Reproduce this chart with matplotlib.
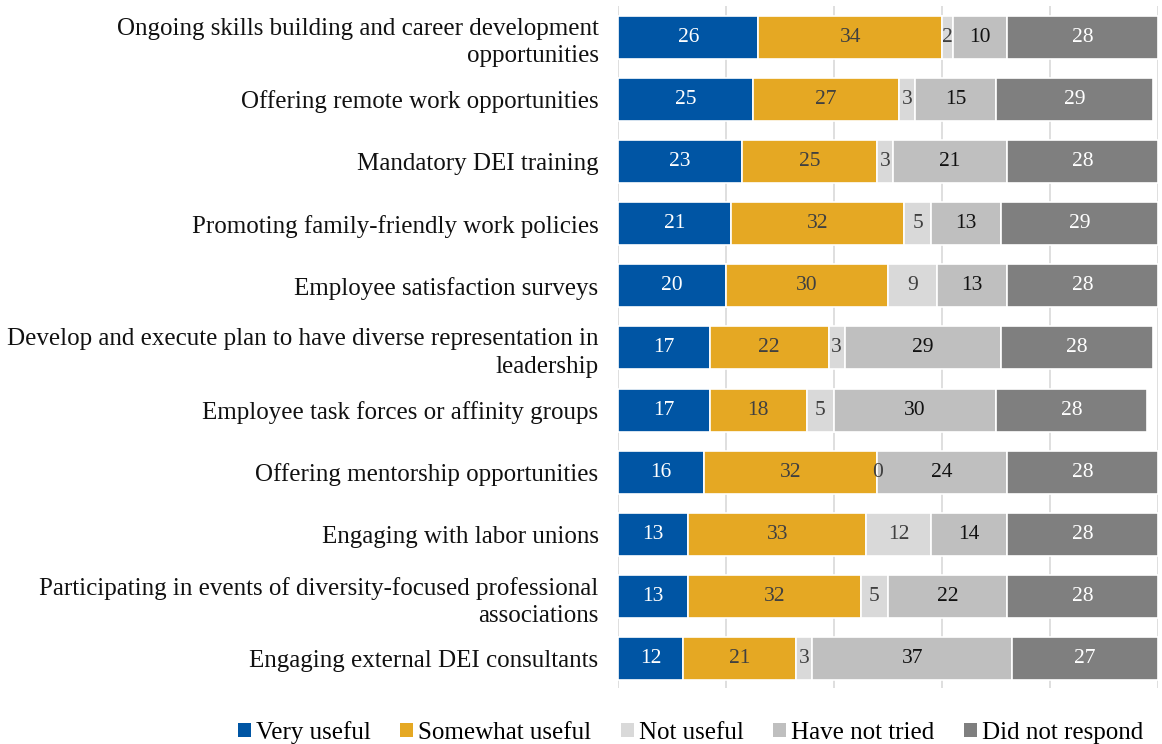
import numpy as np
import matplotlib.pyplot as plt
from matplotlib.patches import Patch

plt.rcParams['font.family'] = ['Liberation Serif', 'DejaVu Serif']

categories = [
    "Ongoing skills building and career development\nopportunities",
    "Offering remote work opportunities",
    "Mandatory DEI training",
    "Promoting family-friendly work policies",
    "Employee satisfaction surveys",
    "Develop and execute plan to have diverse representation in\nleadership",
    "Employee task forces or affinity groups",
    "Offering mentorship opportunities",
    "Engaging with labor unions",
    "Participating in events of diversity-focused professional\nassociations",
    "Engaging external DEI consultants",
]

very_useful = [26, 25, 23, 21, 20, 17, 17, 16, 13, 13, 12]
somewhat_useful = [34, 27, 25, 32, 30, 22, 18, 32, 33, 32, 21]
not_useful = [2, 3, 3, 5, 9, 3, 5, 0, 12, 5, 3]
have_not_tried = [10, 15, 21, 13, 13, 29, 30, 24, 14, 22, 37]
did_not_respond = [28, 29, 28, 29, 28, 28, 28, 28, 28, 28, 27]

series = [
    ("Very useful", very_useful, "#0055A4", "white"),
    ("Somewhat useful", somewhat_useful, "#E5A823", "#404040"),
    ("Not useful", not_useful, "#D9D9D9", "#404040"),
    ("Have not tried", have_not_tried, "#BFBFBF", "#111111"),
    ("Did not respond", did_not_respond, "#7F7F7F", "white"),
]

fig = plt.figure(figsize=(11.62, 7.44), dpi=100)
ax = fig.add_axes([618 / 1162, 1 - 688 / 744, 540 / 1162, 682 / 744])

y = np.arange(len(categories))
left = np.zeros(len(categories))
for name, vals, color, tcolor in series:
    vals = np.array(vals, dtype=float)
    bars = ax.barh(y, vals, left=left, height=0.69, color=color,
                   edgecolor="white", linewidth=1.2, label=name, zorder=2)
    for b, v in zip(bars, vals):
        ax.text(b.get_x() + b.get_width() / 2, b.get_y() + b.get_height() / 2,
                f"{int(v)}", ha="center", va="center", color=tcolor,
                fontsize=15.5, zorder=3)
    left += vals

ax.set_ylim(10.47, -0.5)
ax.set_xlim(0, 100)
ax.set_yticks(y)
ax.set_yticklabels(categories, fontsize=18, color="#111111", linespacing=1.3)
ax.tick_params(axis="y", length=0, pad=14)
ax.tick_params(axis="x", length=0, labelbottom=False)
ax.set_xticks(np.arange(0, 101, 20))
ax.grid(axis="x", color="#D9D9D9", linewidth=1.2, zorder=0)
for s in ax.spines.values():
    s.set_visible(False)

handles = [Patch(facecolor=c, edgecolor="none") for _, _, c, _ in series]
fig.legend(handles, [n for n, _, _, _ in series], loc="lower right",
           bbox_to_anchor=(1.003, -0.03), ncol=5, frameon=False, fontsize=18,
           handlelength=0.5, handleheight=0.5, handletextpad=0.2,
           columnspacing=1.2)

fig.savefig("out.png", dpi=100)
